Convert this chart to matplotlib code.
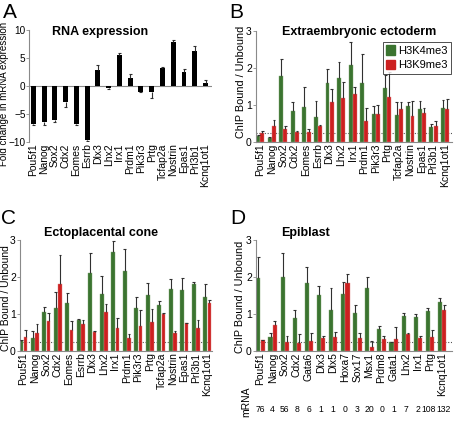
import matplotlib
matplotlib.use('Agg')
import matplotlib.pyplot as plt
import matplotlib.transforms as mtransforms
from matplotlib.patches import Patch
import numpy as np

plt.rcParams['font.family'] = ['Liberation Sans', 'DejaVu Sans']

# ---------------- data ----------------
genes_A = ['Pou5f1', 'Nanog', 'Sox2', 'Cdx2', 'Eomes', 'Esrrb', 'Dlx3', 'Lhx2', 'Irx1',
           'Prdm1', 'Pik3r3', 'Prtg', 'Tcfap2a', 'Nostrin', 'Epas1', 'Prl3b1', 'Kcnq1ot1']
rna_fold = [-6.7, -6.4, -6.1, -2.85, -6.7, -9.6, 2.9, -0.3, 5.6, 1.45, -1.0, -1.0, 3.2, 7.9, 2.5, 6.2, 0.6]
rna_err_end = [-6.9, -7.0, -6.5, -3.8, -7.0, -9.8, 3.75, -0.5, 5.9, 2.1, -1.15, -2.1, 3.45, 8.2, 3.0, 7.1, 1.1]

genes_B = genes_A
B_k4 = [0.16, 0.12, 1.79, 0.84, 0.95, 0.68, 1.59, 1.74, 2.08, 1.60, 0.77, 1.45, 0.73, 0.98, 0.89, 0.40, 0.93]
B_k4_err = [0.20, 0.13, 2.23, 1.07, 1.48, 1.11, 1.96, 2.17, 2.69, 2.37, 0.97, 1.81, 1.09, 1.07, 1.11, 0.49, 1.13]
B_k9 = [0.24, 0.43, 0.34, 0.26, 0.26, 0.43, 1.08, 1.19, 1.31, 0.57, 0.77, 1.22, 0.89, 0.70, 0.79, 0.43, 0.89]
B_k9_err = [0.30, 0.60, 0.43, 0.30, 0.35, 0.45, 1.42, 1.62, 1.48, 0.93, 0.99, 1.88, 1.09, 1.10, 0.93, 0.57, 1.16]

genes_C = genes_A
C_k4 = [0.28, 0.36, 1.06, 1.17, 1.29, 0.84, 2.12, 1.54, 2.67, 2.16, 1.15, 1.51, 1.24, 1.68, 1.65, 1.80, 1.46]
C_k4_err = [0.30, 0.54, 1.20, 1.60, 1.58, 0.86, 2.64, 2.03, 2.97, 2.76, 1.47, 1.85, 1.36, 1.94, 1.96, 1.86, 1.80]
C_k9 = [0.37, 0.48, 0.81, 1.80, 0.56, 0.73, 0.51, 1.05, 0.61, 0.35, 0.68, 0.79, 1.01, 0.50, 0.75, 0.61, 1.31]
C_k9_err = [0.57, 0.73, 1.03, 2.59, 0.81, 0.84, 0.55, 1.26, 0.88, 0.46, 1.11, 1.14, 1.02, 0.53, 0.77, 0.83, 1.37]

genes_D = ['Pou5f1', 'Nanog', 'Sox2', 'Cdx2', 'Gata6', 'Dlx3', 'Dlx5', 'Hoxa7', 'Sox17',
           'Msx1', 'Prdm8', 'Gata1', 'Lhx2', 'Irx1', 'Prtg', 'Kcnq1ot1']
D_k4 = [1.98, 0.39, 2.01, 0.88, 1.84, 1.51, 1.10, 1.54, 1.02, 1.69, 0.59, 0.25, 0.95, 0.92, 1.07, 1.32]
D_k4_err = [2.53, 0.50, 2.64, 1.11, 2.28, 1.76, 1.69, 1.86, 1.24, 2.01, 0.68, 0.25, 1.03, 1.01, 1.15, 1.42]
D_k9 = [0.30, 0.70, 0.25, 0.22, 0.27, 0.35, 0.37, 1.83, 0.35, 0.12, 0.33, 0.32, 0.47, 0.36, 0.38, 1.10]
D_k9_err = [0.31, 0.82, 0.41, 0.45, 0.48, 0.41, 0.52, 2.07, 0.50, 0.28, 0.40, 0.66, 0.48, 0.40, 0.58, 1.24]
D_mrna = ['76', '4', '56', '8', '6', '1', '1', '0', '3', '20', '0', '1', '7', '2', '108', '132']

threshold = 0.25

# ---------------- style ----------------
GREEN = '#3b7430'
RED = '#cc2020'
SPINE = '#8a8a8a'
ERR = '#303030'
TICK_FS = 7.5

W, H = 454, 425
fig = plt.figure(figsize=(W / 100, H / 100), dpi=100)


def add_ax(l, r, t, b):
    return fig.add_axes([l / W, 1 - b / H, (r - l) / W, (b - t) / H])


def fx(px):
    return px / W


def fy(py):
    return 1 - py / H


def style(ax):
    for s in ['top', 'right']:
        ax.spines[s].set_visible(False)
    for s in ['left', 'bottom']:
        ax.spines[s].set_color(SPINE)
        ax.spines[s].set_linewidth(0.8)
    ax.tick_params(axis='y', length=2, width=0.6, color=SPINE, labelsize=TICK_FS, pad=1)
    ax.tick_params(axis='x', length=0, labelsize=TICK_FS, pad=1)


def up_err(ax, x, val, end, cap=0.12):
    x = np.asarray(x, float)
    val = np.asarray(val, float)
    end = np.asarray(end, float)
    ax.vlines(x, val, end, color=ERR, lw=0.8, zorder=3)
    ax.hlines(end, x - cap, x + cap, color=ERR, lw=0.8, zorder=3)


def chip(ax, genes, k4, k4e, k9, k9e, xlim):
    x = np.arange(len(genes))
    off, w = 0.18, 0.34
    ax.bar(x - off, k4, w, color=GREEN, edgecolor='#7fa870', linewidth=0.3, zorder=2)
    ax.bar(x + off, k9, w, color=RED, edgecolor='#e08080', linewidth=0.3, zorder=2)
    up_err(ax, x - off, k4, k4e)
    up_err(ax, x + off, k9, k9e)
    ax.axhline(threshold, color='#555555', ls=(0, (1, 1.5)), lw=0.8, zorder=1)
    ax.set_ylim(0, 3)
    ax.set_yticks([0, 1, 2, 3])
    ax.set_xlim(*xlim)
    ax.set_xticks(x)
    ax.set_xticklabels(genes, rotation=90)
    style(ax)


# ---------------- Panel A ----------------
axA = add_ax(29, 212, 30, 142)
xA = np.arange(len(genes_A))
axA.bar(xA, rna_fold, 0.46, color='black', zorder=2)
up_err(axA, xA, rna_fold, rna_err_end, cap=0.14)
axA.axhline(0, color=SPINE, lw=0.8, zorder=1)
axA.set_ylim(-10, 10)
axA.set_yticks([-10, -5, 0, 5, 10])
axA.set_xlim(-0.4, 16.6)
axA.set_xticks(xA)
axA.set_xticklabels(genes_A, rotation=90)
style(axA)
axA.tick_params(axis='y', pad=0.5, labelsize=7.2)
axA.spines['bottom'].set_visible(False)

# ---------------- Panel B ----------------
axB = add_ax(256, 452, 31, 142)
chip(axB, genes_B, B_k4, B_k4_err, B_k9, B_k9_err, (-0.37, 16.6))
leg = axB.legend(handles=[Patch(color=GREEN, label='H3K4me3'), Patch(color=RED, label='H3K9me3')],
                 loc='upper right', bbox_to_anchor=(0.995, 0.9), fontsize=8,
                 handlelength=0.8, handleheight=0.9, handletextpad=0.3,
                 borderpad=0.3, labelspacing=0.35, borderaxespad=0.0,
                 frameon=True, fancybox=False)
leg.get_frame().set_edgecolor('black')
leg.get_frame().set_linewidth(0.6)

# ---------------- Panel C ----------------
axC = add_ax(20, 212, 240, 351)
chip(axC, genes_C, C_k4, C_k4_err, C_k9, C_k9_err, (-0.3, 16.4))

# ---------------- Panel D ----------------
axD = add_ax(256, 452, 240, 351)
chip(axD, genes_D, D_k4, D_k4_err, D_k9, D_k9_err, (-0.38, 15.82))
xD = np.arange(len(genes_D))
trD = mtransforms.blended_transform_factory(axD.transData, fig.transFigure)
n = len(D_mrna)
for i, (xi, m) in enumerate(zip(xD, D_mrna)):
    dx = -1.2 if i == n - 2 else (1.2 if i == n - 1 else 0.0)
    axD.annotate(m, (xi, fy(409)), xycoords=trD, xytext=(dx, 0), textcoords='offset points',
                 ha='center', va='center', fontsize=6.2, annotation_clip=False)
fig.text(fx(246), fy(402), 'mRNA', rotation=90, ha='center', va='center', fontsize=7.5)

# ---------------- titles / labels ----------------
fig.text(fx(100), fy(32), 'RNA expression', ha='center', va='center', fontsize=9, fontweight='bold')
fig.text(fx(359), fy(32.5), 'Extraembryonic ectoderm', ha='center', va='center', fontsize=9, fontweight='bold')
fig.text(fx(101), fy(233), 'Ectoplacental cone', ha='center', va='center', fontsize=9, fontweight='bold')
fig.text(fx(305), fy(233), 'Epiblast', ha='center', va='center', fontsize=9, fontweight='bold')

fig.text(fx(4), fy(94), 'Fold change in mRNA expression', rotation=90, ha='center', va='center', fontsize=7)
fig.text(fx(241), fy(82), 'ChIP Bound / Unbound', rotation=90, ha='center', va='center', fontsize=7.8)
fig.text(fx(6), fy(298), 'ChIP Bound / Unbound', rotation=90, ha='center', va='center', fontsize=7.5)
fig.text(fx(240.5), fy(297), 'ChIP Bound / Unbound', rotation=90, ha='center', va='center', fontsize=7.8)

for lab, (px, py) in zip('ABCD', [(10, 12.5), (236, 12.5), (8, 218), (238, 219)]):
    fig.text(fx(px), fy(py), lab, ha='center', va='center', fontsize=15)

fig.savefig('out.png', dpi=100)
